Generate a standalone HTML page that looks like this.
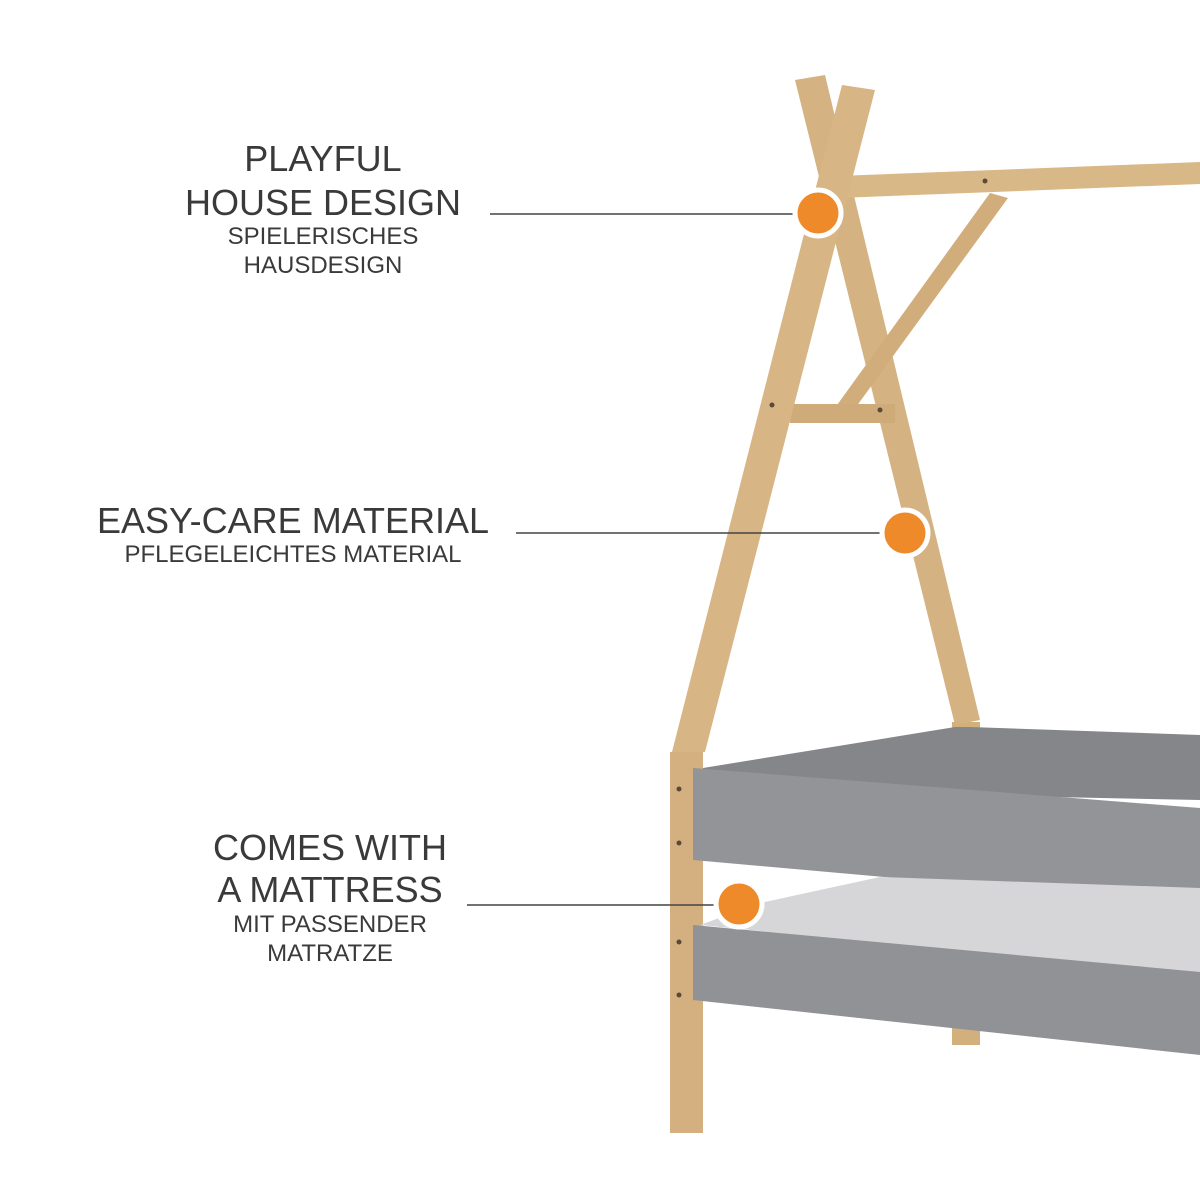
<!DOCTYPE html>
<html><head><meta charset="utf-8"><style>
body{margin:0;background:#fff}
svg{display:block}
text{font-family:"Liberation Sans",sans-serif;fill:#3a3a3a;text-anchor:middle}
</style></head><body>
<svg width="1200" height="1200" viewBox="0 0 1200 1200">
<polygon points="952,722 980,722 980,1045 952,1045" fill="#d2b07e"/>
<polygon points="795,80 825,75 980,720 955,725" fill="#d5b282"/>
<polygon points="838,176 1200,162 1200,184 838,198" fill="#d8b886"/>
<polygon points="990,193 1008,198 848,418 832,412" fill="#d1ad7b"/>
<polygon points="790,404 895,404 895,423 790,423" fill="#cfab79"/>
<polygon points="842,85 875,90 705,752 672,752" fill="#d7b584"/>
<polygon points="670,752 703,752 703,1133 670,1133" fill="#d4b080"/>
<polygon points="703,768 955,727 970,727 1200,735 1200,800 703,790" fill="#85868a"/>
<polygon points="693,768 1200,808 1200,905 693,860" fill="#939497"/>
<polygon points="760,903 880,877 1200,888 1200,975 700,925" fill="#d6d6d8"/>
<polygon points="693,925 1200,972 1200,1055 693,1000" fill="#919295"/>
<g fill="#5a4a38">
<circle cx="679" cy="789" r="2.5"/><circle cx="679" cy="843" r="2.5"/><circle cx="679" cy="942" r="2.5"/><circle cx="679" cy="995" r="2.5"/>
<circle cx="985" cy="181" r="2.5"/><circle cx="772" cy="405" r="2.5"/><circle cx="880" cy="410" r="2.5"/>
</g>
<g stroke="#444" stroke-width="1.5">
<line x1="490" y1="214" x2="800" y2="214"/>
<line x1="516" y1="533" x2="885" y2="533"/>
<line x1="467" y1="905" x2="718" y2="905"/>
</g>
<g fill="#ef8a2a" stroke="#fff" stroke-width="5">
<circle cx="818" cy="213" r="23"/>
<circle cx="905" cy="533" r="23"/>
<circle cx="739" cy="904" r="23"/>
</g>
<text x="323" y="171" font-size="36">PLAYFUL</text>
<text x="323" y="215" font-size="36">HOUSE DESIGN</text>
<text x="323" y="244" font-size="24">SPIELERISCHES</text>
<text x="323" y="273" font-size="24">HAUSDESIGN</text>
<text x="293" y="533" font-size="36">EASY-CARE MATERIAL</text>
<text x="293" y="562" font-size="24">PFLEGELEICHTES MATERIAL</text>
<text x="330" y="860" font-size="36">COMES WITH</text>
<text x="330" y="902" font-size="36">A MATTRESS</text>
<text x="330" y="932" font-size="24">MIT PASSENDER</text>
<text x="330" y="961" font-size="24">MATRATZE</text>
</svg>
</body></html>
